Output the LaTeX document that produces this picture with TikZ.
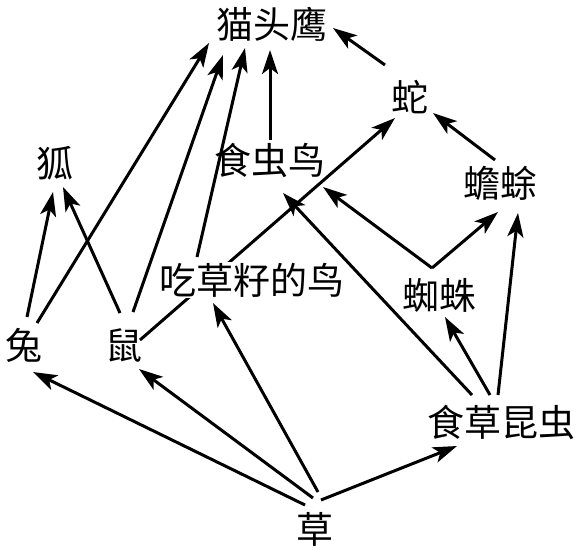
\documentclass[tikz,border=0pt]{standalone}
\usepackage{fontspec}
\newfontfamily\cjk{Noto Sans CJK SC}
\usetikzlibrary{arrows.meta,calc,backgrounds}
\tikzset{
  lbl/.style={font=\cjk\fontsize{37}{40}\selectfont, inner sep=1pt},
  cover/.style={fill=white},
  arr/.style={line width=3pt, -{Stealth[length=24pt,width=16pt,inset=6pt]}}
}
\begin{document}
\begin{tikzpicture}[x=1pt,y=-1pt]
\useasboundingbox (0,0) rectangle (577,549);
\node[lbl] (owl) at (272,24) {猫头鹰};
\node[lbl] (snake) at (410,97) {蛇};
\node[lbl] (fox) at (55,163) {狐};
\node[lbl] (ibird) at (270,160) {食虫鸟};
\node[lbl] (toad) at (500,183) {蟾蜍};
\node[lbl,cover] (sbird) at (252,280) {吃草籽的鸟};
\node[lbl] (spider) at (439,295) {蜘蛛};
\node[lbl] (rabbit) at (24,345) {兔};
\node[lbl] (mouse) at (124,345) {鼠};
\node[lbl] (insect) at (501,422) {食草昆虫};
\node[lbl] (grass) at (315,529) {草};
\begin{scope}[on background layer]
\draw[arr] ($(rabbit)+(3,-28)$) -- ($(fox)+(-2,29)$);
\draw[arr] ($(mouse)+(-4,-32)$) -- ($(fox)+(8,24)$);
\draw[arr] ($(rabbit)+(13,-22)$) -- ($(owl)+(-63,19)$);
\draw[arr] ($(mouse)+(9,-33)$) -- ($(owl)+(-49,31)$);
\draw[arr] ($(sbird)+(-55,-23)$) -- ($(owl)+(-27,24)$);
\draw[arr] ($(ibird)+(0,-20)$) -- ($(owl)+(-2,26)$);
\draw[arr] ($(snake)+(-25,-32)$) -- ($(owl)+(61,4)$);
\draw[arr] ($(toad)+(-5,-23)$) -- ($(snake)+(23,16)$);
\draw[arr] ($(mouse)+(16,-5)$) -- ($(snake)+(-15,21)$);
\draw[arr] ($(spider)+(-7,-27)$) -- ($(ibird)+(53,27)$);
\draw[arr] ($(spider)+(-7,-27)$) -- ($(toad)+(-2,29)$);
\draw[arr] ($(insect)+(-3,-27)$) -- ($(toad)+(18,30)$);
\draw[arr] ($(insect)+(-11,-27)$) -- ($(spider)+(6,22)$);
\draw[arr] ($(insect)+(-29,-27)$) -- ($(ibird)+(13,33)$);
\draw[arr] ($(grass)+(-10,-24)$) -- ($(rabbit)+(9,27)$);
\draw[arr] ($(grass)+(-2,-31)$) -- ($(mouse)+(15,24)$);
\draw[arr] ($(grass)+(3,-37)$) -- ($(sbird)+(-39,23)$);
\draw[arr] ($(grass)+(6,-29)$) -- ($(insect)+(-44,24)$);
\end{scope}
\end{tikzpicture}
\end{document}
